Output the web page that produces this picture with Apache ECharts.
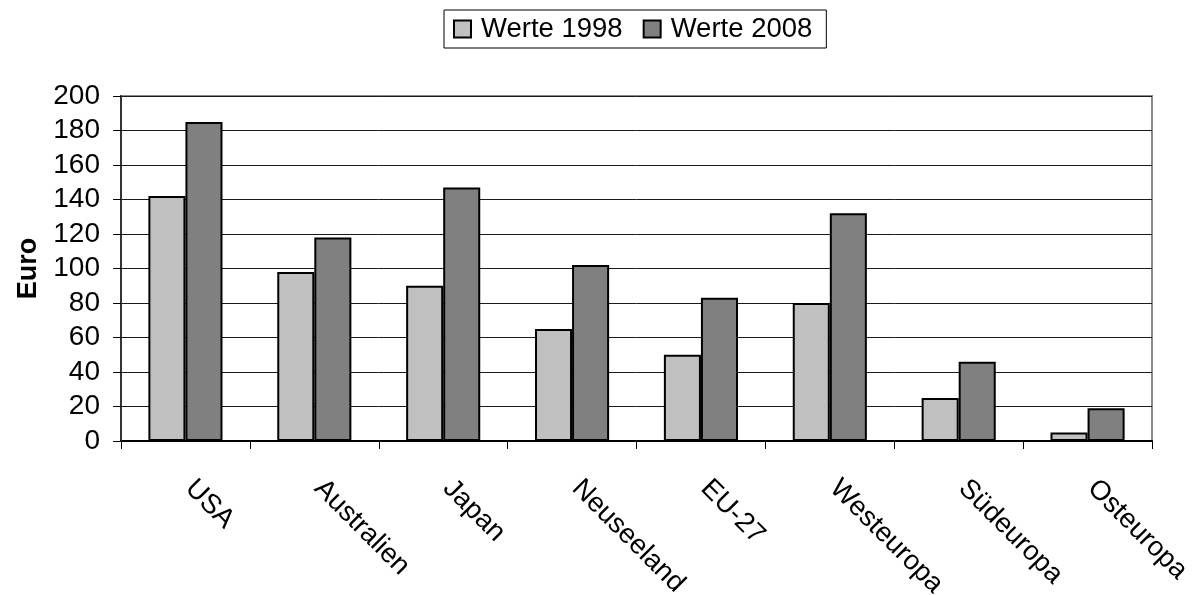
<!DOCTYPE html>
<html>
<head>
<meta charset="utf-8">
<title>Werte 1998 / 2008</title>
<script src="https://cdn.jsdelivr.net/npm/echarts@6/dist/echarts.min.js"></script>
<style>
  html, body { margin: 0; padding: 0; background: #ffffff; }
  #chart { width: 1203px; height: 595px; }
</style>
</head>
<body>
<div id="chart"></div>
<script>
// Regions shown along the x axis
const categories = ['USA', 'Australien', 'Japan', 'Neuseeland', 'EU-27', 'Westeuropa', 'Südeuropa', 'Osteuropa'];
// Values in Euro
const werte1998 = [142, 98, 90, 65, 50, 80, 25, 5];
const werte2008 = [185, 118, 147, 102, 83, 132, 46, 19];
const seriesNames = ['Werte 1998', 'Werte 2008'];

const FONT = '"Liberation Sans", Arial, Helvetica, sans-serif';

const chart = echarts.init(document.getElementById('chart'), null, { renderer: 'canvas' });

const barStyle = (color) => ({
  color: color,
  borderColor: '#000000',
  borderWidth: 2
});

chart.setOption({
  animation: false,
  backgroundColor: '#ffffff',
  textStyle: { fontFamily: FONT, color: '#000000' },
  legend: {
    left: 444,
    top: 10,
    padding: [5, 14, 5, 9],
    itemWidth: 17,
    itemHeight: 17,
    itemGap: 20,
    borderColor: '#000000',
    borderWidth: 1,
    icon: 'rect',
    textStyle: { fontFamily: FONT, fontSize: 27.5, color: '#000000', padding: [0, 0, 0, 5] },
    data: seriesNames
  },
  grid: {
    left: 121,
    right: 51,
    top: 96,
    bottom: 154,
    containLabel: false,
    outerBoundsMode: 'none',
    show: true,
    borderColor: '#8a8a8a',
    borderWidth: 2
  },
  xAxis: {
    type: 'category',
    data: categories,
    axisLine: { lineStyle: { color: '#000000', width: 2 } },
    axisTick: { show: true, length: 8, lineStyle: { color: '#000000', width: 1 } },
    axisLabel: {
      rotate: -45,
      margin: 39,
      padding: [0, 0, 0, 6],
      fontFamily: FONT,
      fontSize: 27.5,
      color: '#000000',
      interval: 0
    }
  },
  yAxis: {
    type: 'value',
    min: 0,
    max: 200,
    interval: 20,
    name: 'Euro',
    nameLocation: 'middle',
    nameRotate: 90,
    nameGap: 73,
    nameTextStyle: { fontFamily: FONT, fontSize: 27, fontWeight: 'bold', color: '#000000' },
    axisLine: { show: true, lineStyle: { color: '#333333', width: 2 } },
    axisTick: { show: true, length: 8, inside: false, lineStyle: { color: '#000000', width: 1 } },
    axisLabel: { fontFamily: FONT, fontSize: 28, color: '#000000', margin: 21 },
    splitLine: { show: true, lineStyle: { color: '#1a1a1a', width: 1 } }
  },
  series: [
    {
      name: seriesNames[0],
      type: 'bar',
      data: werte1998,
      barGap: '0%',
      barCategoryGap: '42.5%',
      itemStyle: barStyle('#c0c0c0')
    },
    {
      name: seriesNames[1],
      type: 'bar',
      data: werte2008,
      barGap: '0%',
      barCategoryGap: '42.5%',
      itemStyle: barStyle('#808080')
    }
  ]
});
</script>
</body>
</html>
